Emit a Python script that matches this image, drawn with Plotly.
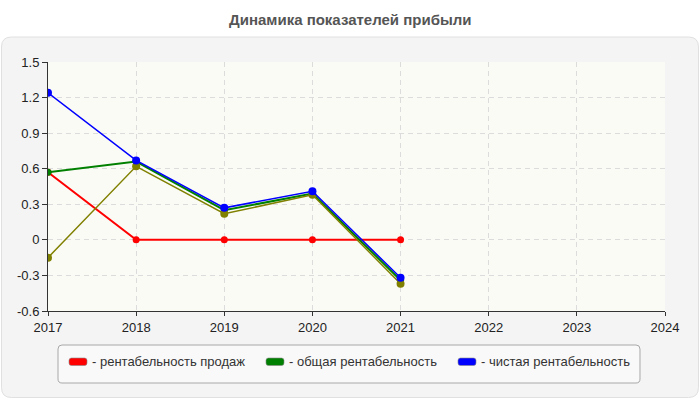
import plotly.graph_objects as go

years = [2017, 2018, 2019, 2020, 2021]
sales_margin = [0.57, 0.0, 0.0, 0.0, 0.0]          # рентабельность продаж (red)
total_margin = [0.57, 0.66, 0.25, 0.39, -0.34]      # общая рентабельность (green)
extra_series = [-0.15, 0.62, 0.22, 0.38, -0.37]     # olive, not in legend
net_margin = [1.24, 0.67, 0.27, 0.41, -0.32]        # чистая рентабельность (blue)

y_ticks = [-0.6, -0.3, 0, 0.3, 0.6, 0.9, 1.2, 1.5]
y_ticktext = ["-0.6", "-0.3", "0", "0.3", "0.6", "0.9", "1.2", "1.5"]
x_ticks = [2017, 2018, 2019, 2020, 2021, 2022, 2023, 2024]

legend_names = ["- рентабельность продаж", "- общая рентабельность", "- чистая рентабельность"]
legend_colors = ["#ff0000", "#008000", "#0000ff"]

W, H = 700, 400
L, R, T, B = 48, 35, 62, 89
pw, ph = W - L - R, H - T - B
FONT = "Liberation Sans, Arial"

def px_x(p):
    return (p - L) / pw

def px_y(p):
    return (H - B - p) / ph

fig = go.Figure()

fig.add_trace(go.Scatter(x=years, y=sales_margin, mode="lines+markers",
                         line=dict(color="#ff0000", width=2),
                         marker=dict(color="#ff0000", size=7), showlegend=False))
fig.add_trace(go.Scatter(x=years, y=total_margin, mode="lines+markers",
                         line=dict(color="#008000", width=2),
                         marker=dict(color="#008000", size=7), showlegend=False))
fig.add_trace(go.Scatter(x=years, y=extra_series, mode="lines+markers",
                         line=dict(color="#808000", width=1.5),
                         marker=dict(color="#808000", size=8), showlegend=False))
fig.add_trace(go.Scatter(x=years, y=net_margin, mode="lines+markers",
                         line=dict(color="#0000ff", width=1.5),
                         marker=dict(color="#0000ff", size=8), showlegend=False))

def rounded_rect(x0, y0, x1, y1, r):
    def P(x, y):
        return f"{px_x(x):.5f},{px_y(y):.5f}"
    return (f"M {P(x0 + r, y0)} L {P(x1 - r, y0)} Q {P(x1, y0)} {P(x1, y0 + r)} "
            f"L {P(x1, y1 - r)} Q {P(x1, y1)} {P(x1 - r, y1)} "
            f"L {P(x0 + r, y1)} Q {P(x0, y1)} {P(x0, y1 - r)} "
            f"L {P(x0, y0 + r)} Q {P(x0, y0)} {P(x0 + r, y0)} Z")

shapes = [
    dict(type="path", xref="paper", yref="paper", layer="below",
         path=rounded_rect(1.5, 37, 698.5, 397.5, 10),
         fillcolor="#f4f4f4", line=dict(color="#e0e0e0", width=1)),
    dict(type="rect", xref="paper", yref="paper", layer="below",
         x0=0, x1=1, y0=0, y1=1, fillcolor="#fbfbf6", line=dict(width=0)),
    dict(type="path", xref="paper", yref="paper", layer="above",
         path=rounded_rect(58, 345, 640, 383, 4),
         fillcolor="#f9f9f9", line=dict(color="#a8a8a8", width=1)),
]
annotations = [
    dict(text="<b>Динамика показателей прибыли</b>", xref="paper", yref="paper",
         x=px_x(350), y=px_y(20), showarrow=False,
         font=dict(family=FONT, size=15, color="#555555"),
         xanchor="center", yanchor="middle"),
]
sw_x = [69, 266, 458]
for name, color, sx in zip(legend_names, legend_colors, sw_x):
    shapes.append(dict(type="path", xref="paper", yref="paper", layer="above",
                       path=rounded_rect(sx, 358, sx + 18, 365.5, 2.5),
                       fillcolor=color, line=dict(color="#888888", width=0.6)))
    annotations.append(dict(text=name, xref="paper", yref="paper",
                            x=px_x(sx + 21), y=px_y(362), showarrow=False,
                            xanchor="left", yanchor="middle",
                            font=dict(family=FONT, size=13, color="#333333")))

fig.update_layout(
    width=W, height=H,
    margin=dict(l=L, r=R, t=T, b=B),
    paper_bgcolor="#ffffff",
    plot_bgcolor="rgba(0,0,0,0)",
    font=dict(family=FONT, size=13, color="#333333"),
    shapes=shapes,
    annotations=annotations,
    showlegend=False,
)
fig.update_xaxes(range=[2017, 2024], tickvals=x_ticks, showgrid=True,
                 gridcolor="#dcdcdc", griddash="5px,4px", gridwidth=1,
                 showline=True, linecolor="#333333", linewidth=1,
                 ticks="outside", ticklen=4, tickcolor="#333333",
                 zeroline=False, tickfont=dict(size=13, color="#222222"))
fig.update_yaxes(range=[-0.6, 1.5], tickvals=y_ticks, ticktext=y_ticktext,
                 showgrid=True, gridcolor="#dcdcdc", griddash="5px,4px", gridwidth=1,
                 showline=True, linecolor="#333333", linewidth=1,
                 ticks="outside", ticklen=5, tickcolor="#333333",
                 zeroline=False, tickfont=dict(size=13, color="#222222"))

fig.write_html("out.html")
